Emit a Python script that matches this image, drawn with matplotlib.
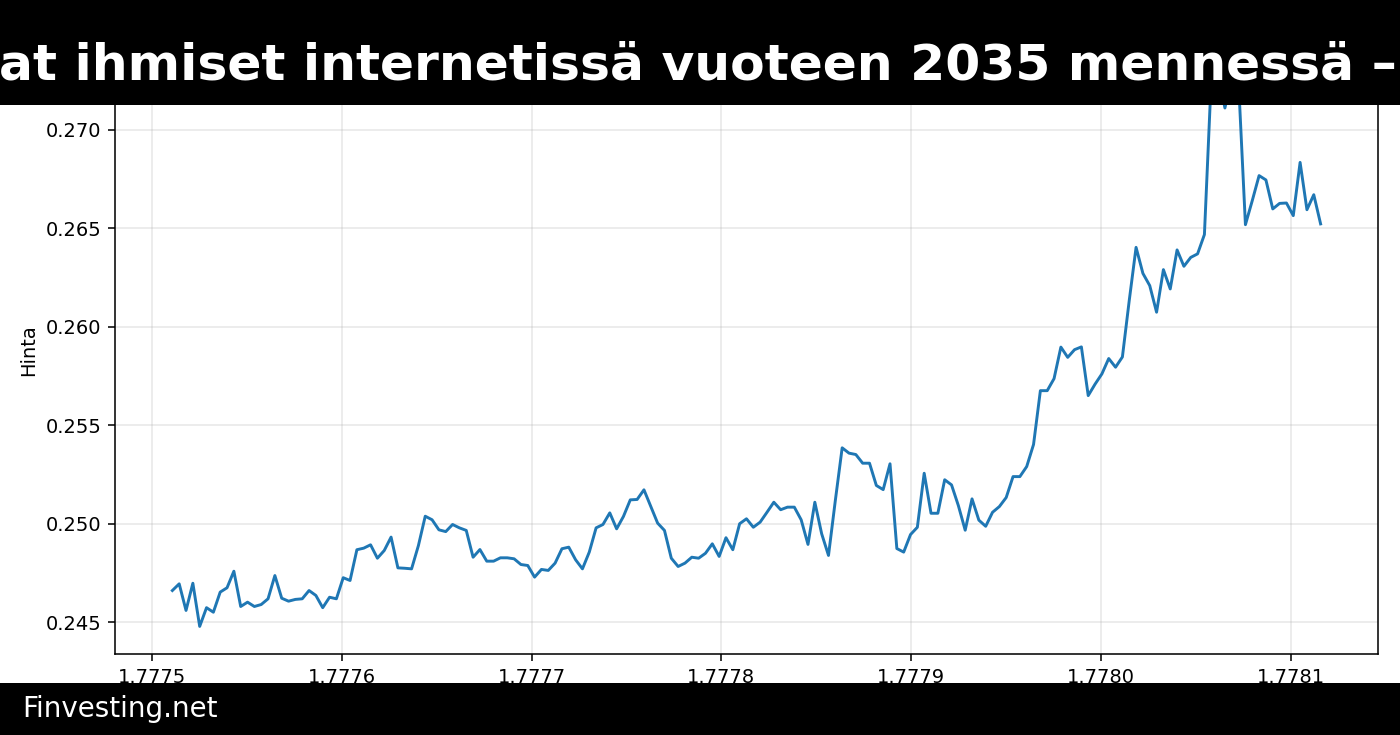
import numpy as np
import matplotlib
matplotlib.use("Agg")
import matplotlib.pyplot as plt
from matplotlib.patches import Rectangle

title_text = "at ihmiset internetissä vuoteen 2035 mennessä –"
footer_text = "Finvesting.net"
y_label = "Hinta"

# hourly timestamps (unix seconds), one week
start_ts = 1777510800
step_s = 3600

prices = [
    0.24662, 0.24696, 0.24561, 0.24699, 0.24480, 0.24575, 0.24552, 0.24654, 0.24676, 0.24760,
    0.24581, 0.24603, 0.24581, 0.24591, 0.24620, 0.24738, 0.24623, 0.24608, 0.24617, 0.24620,
    0.24662, 0.24637, 0.24575, 0.24628, 0.24620, 0.24727, 0.24713, 0.24869, 0.24877, 0.24894,
    0.24826, 0.24865, 0.24933, 0.24777, 0.24775, 0.24772, 0.24890, 0.25039, 0.25021, 0.24970,
    0.24961, 0.24997, 0.24980, 0.24967, 0.24831, 0.24870, 0.24811, 0.24811, 0.24828, 0.24828,
    0.24823, 0.24794, 0.24789, 0.24730, 0.24769, 0.24764, 0.24801, 0.24874, 0.24882, 0.24818,
    0.24772, 0.24857, 0.24980, 0.24997, 0.25056, 0.24975, 0.25038, 0.25122, 0.25124, 0.25173,
    0.25088, 0.25004, 0.24967, 0.24826, 0.24784, 0.24801, 0.24831, 0.24826, 0.24851, 0.24899,
    0.24835, 0.24930, 0.24869, 0.25001, 0.25026, 0.24983, 0.25009, 0.25059, 0.25110, 0.25072,
    0.25085, 0.25085, 0.25021, 0.24896, 0.25110, 0.24950, 0.24840, 0.25119, 0.25386, 0.25359,
    0.25352, 0.25308, 0.25308, 0.25195, 0.25174, 0.25305, 0.24875, 0.24857, 0.24946, 0.24983,
    0.25257, 0.25054, 0.25054, 0.25224, 0.25198, 0.25093, 0.24968, 0.25127, 0.25019, 0.24988,
    0.25059, 0.25088, 0.25134, 0.25240, 0.25240, 0.25291, 0.25403, 0.25676, 0.25676, 0.25737,
    0.25897, 0.25845, 0.25884, 0.25898, 0.25651, 0.25709, 0.25761, 0.25839, 0.25795, 0.25847,
    0.26133, 0.26403, 0.26271, 0.26209, 0.26074, 0.26290, 0.26192, 0.26390, 0.26307, 0.26352,
    0.26370, 0.26468, 0.27260, 0.27280, 0.27110, 0.27270, 0.27240, 0.26518, 0.26640, 0.26767,
    0.26745, 0.26598, 0.26626, 0.26628, 0.26564, 0.26834, 0.26594, 0.26670, 0.26522,
]

times = start_ts + step_s * np.arange(len(prices))

fig = plt.figure(figsize=(10, 5.25), dpi=140)
ax = fig.add_axes([0.0821, 0.1102, 0.9022, 0.826])
ax.plot(times, prices, color="#1f77b4", linewidth=1.5)
ax.set_ylabel(y_label)
ax.grid(True, alpha=0.3)

# black header and footer bars drawn over the chart
fig.add_artist(Rectangle((0, 0.857), 1, 0.143, transform=fig.transFigure,
                         facecolor="black", edgecolor="none", zorder=10))
fig.add_artist(Rectangle((0, 0), 1, 0.0707, transform=fig.transFigure,
                         facecolor="black", edgecolor="none", zorder=10))
fig.text(-0.001, 0.8918, title_text, color="white", fontsize=25.9, fontweight="bold",
         ha="left", va="baseline", zorder=11)
fig.text(0.0157, 0.0245, footer_text, color="white", fontsize=14.3,
         ha="left", va="baseline", zorder=11)

fig.savefig("out.png", dpi=140)
